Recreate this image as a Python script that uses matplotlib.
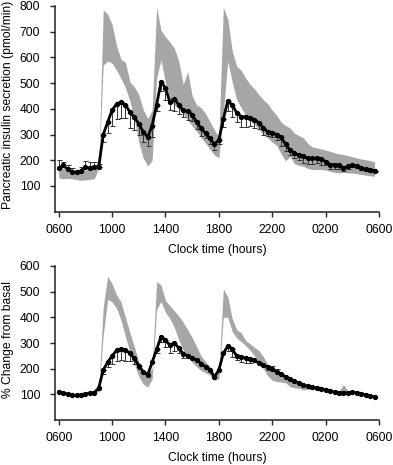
import numpy as np
import matplotlib
matplotlib.use('Agg')
from matplotlib import pyplot as plt

plt.rcParams['font.family'] = ['Liberation Sans', 'DejaVu Sans']
plt.rcParams['font.size'] = 8.7

# samples every 20 min starting at 0600
sample_minutes = 20
tick_hours = [0, 4, 8, 12, 16, 20, 24]
tick_labels = ['0600', '1000', '1400', '1800', '2200', '0200', '0600']

# top panel: insulin secretion rate (pmol/min)
isr_mean = [170, 180, 165, 155, 153, 158, 172, 170, 175, 175, 300, 348,
            395, 419, 426, 415, 388, 367, 342, 310, 290, 335, 415, 505,
            482, 425, 440, 415, 394, 390, 378, 348, 325, 305, 285, 262,
            280, 360, 430, 415, 385, 370, 369, 366, 358, 346, 326, 310,
            308, 300, 290, 262, 240, 227, 220, 215, 208, 207, 208, 204,
            195, 183, 183, 180, 170, 176, 182, 177, 171, 165, 162, 160]
isr_err = [32, 12, 15, 14, 10, 15, 25, 22, 18, 10, -30, -42,
           -60, -60, -62, -50, -62, -50, -45, -38, -34, -45, -25, -35,
           -46, -30, -48, -35, -25, -33, -26, -28, -30, -20, -22, -22,
           -15, -30, -40, -46, -36, -40, -39, -31, -31, -25, -26, -17,
           -17, -20, -36, -25, -20, -18, -20, -26, -22, -22, -20, -22,
           -15, -18, -18, -12, -10, -8, -10, -8, -8, -6, -6, -5]
isr_upper = [172, 168, 162, 158, 156, 158, 163, 165, 168, 178, 785, 768,
             728, 645, 593, 580, 505, 485, 455, 397, 362, 395, 795, 705,
             680, 660, 635, 585, 495, 545, 450, 415, 405, 382, 350, 318,
             290, 795, 750, 625, 566, 550, 520, 495, 478, 455, 435, 420,
             395, 375, 348, 335, 326, 305, 296, 287, 265, 252, 248, 244,
             240, 235, 229, 225, 222, 218, 214, 209, 205, 202, 199, 194]
isr_lower = [132, 128, 130, 128, 125, 122, 124, 126, 128, 170, 570, 586,
             578, 550, 518, 482, 430, 360, 270, 209, 178, 200, 520, 590,
             500, 440, 415, 400, 380, 357, 334, 312, 289, 266, 243, 220,
             210, 380, 585, 505, 436, 405, 375, 355, 340, 320, 300, 287,
             270, 258, 225, 198, 214, 186, 180, 177, 168, 164, 164, 164,
             162, 157, 153, 151, 153, 151, 150, 148, 145, 142, 140, 138]

# bottom panel: % change from basal
pct_mean = [110, 106, 100, 96, 96, 98, 102, 105, 107, 125, 195, 225,
            250, 271, 275, 273, 260, 240, 212, 188, 176, 225, 275, 325,
            310, 292, 300, 280, 258, 250, 242, 234, 220, 208, 195, 168,
            195, 260, 288, 276, 250, 246, 241, 237, 232, 223, 215, 206,
            197, 188, 180, 168, 160, 151, 145, 138, 131, 128, 125, 122,
            118, 113, 109, 107, 106, 106, 108, 106, 103, 98, 94, 90]
pct_err = [0, 0, 0, 0, 0, 0, 0, 0, 0, 0, -15, -20,
           -30, -40, -40, -42, -32, -20, -15, 0, 0, 0, -15, -20,
           -25, -30, -32, -20, -18, 0, 0, 0, 0, 0, 0, 0,
           0, 0, -20, -32, -15, -20, -19, -15, 0, 0, 0, -12,
           12, 10, 0, 0, 0, 0, 0, 0, 0, 0, 0, 0,
           0, 0, 0, 0, 0, 0, 0, 0, 0, 0, 0, 0]
pct_upper = [112, 108, 102, 98, 98, 100, 104, 107, 109, 118, 440, 560,
             530, 487, 460, 400, 340, 285, 228, 190, 185, 200, 540, 525,
             465, 445, 425, 405, 380, 352, 320, 286, 250, 228, 208, 178,
             185, 510, 480, 395, 352, 340, 310, 297, 283, 270, 247, 216,
             200, 188, 178, 165, 155, 148, 140, 132, 128, 125, 122, 120,
             116, 112, 110, 112, 138, 115, 108, 106, 103, 98, 94, 90]
pct_lower = [107, 103, 97, 93, 93, 95, 99, 102, 104, 112, 330, 470,
             460, 435, 388, 325, 265, 218, 170, 140, 128, 160, 430, 462,
             420, 395, 360, 312, 273, 246, 225, 208, 193, 184, 175, 155,
             160, 400, 400, 345, 320, 306, 290, 272, 250, 225, 200, 172,
             155, 150, 148, 145, 130, 125, 123, 118, 120, 118, 118, 116,
             112, 108, 106, 104, 112, 104, 104, 102, 100, 95, 91, 87]


def draw_panel(ax, mean, err, upper, lower, ylim, yticks, ylabel):
    hours = np.arange(len(mean)) * sample_minutes / 60.0
    mean = np.array(mean, dtype=float)
    err = np.array(err, dtype=float)
    ax.fill_between(hours, lower, upper, color='#a6a6a6', linewidth=0, zorder=1)
    has_err = err != 0
    yerr = [np.clip(-err[has_err], 0, None), np.clip(err[has_err], 0, None)]
    ax.errorbar(hours[has_err], mean[has_err], yerr=yerr, fmt='none',
                ecolor='#333333', elinewidth=0.7, capsize=1.8, capthick=0.7, zorder=2)
    ax.plot(hours, mean, color='black', lw=2.0, marker='o', ms=2.8, zorder=3)

    ax.set_xlim(-0.28, 24)
    ax.set_ylim(*ylim)
    ax.set_xticks(tick_hours)
    ax.set_xticklabels(tick_labels)
    ax.set_yticks(yticks)
    for side in ['top', 'right']:
        ax.spines[side].set_visible(False)
    for side in ['left', 'bottom']:
        ax.spines[side].set_linewidth(1.1)
        ax.spines[side].set_color('#222222')
    ax.tick_params(axis='both', direction='out', length=3.6, width=1.0, color='#222222')
    ax.tick_params(axis='y', pad=7)
    ax.tick_params(axis='x', pad=5)
    ax.set_xlabel('Clock time (hours)', labelpad=6)
    ax.set_ylabel(ylabel)
    ax.yaxis.set_label_coords(-0.127, 0.52)


fig = plt.figure(figsize=(3.93, 4.65), dpi=100)
ax1 = fig.add_axes([55/393, 1 - 211.7/465, 324/393, 205.7/465])
ax2 = fig.add_axes([55/393, 1 - 420/465, 324/393, 154/465])

draw_panel(ax1, isr_mean, isr_err, isr_upper, isr_lower, (0, 800),
           [100, 200, 300, 400, 500, 600, 700, 800],
           'Pancreatic insulin secretion (pmol/min)')
draw_panel(ax2, pct_mean, pct_err, pct_upper, pct_lower, (0, 600),
           [100, 200, 300, 400, 500, 600], '% Change from basal')

fig.savefig('out.png', dpi=100)
